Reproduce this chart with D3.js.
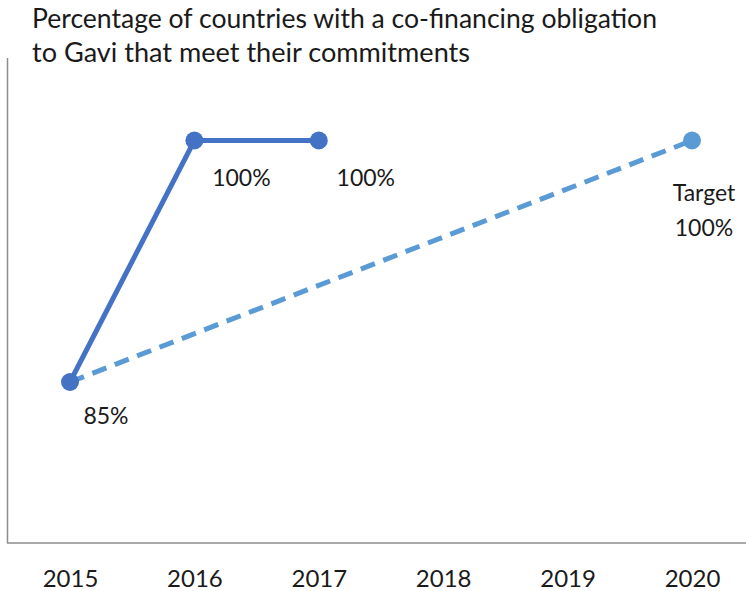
<!DOCTYPE html>
<html><head><meta charset="utf-8">
<script src="https://cdn.jsdelivr.net/npm/d3@7"></script>
<style>body{margin:0;background:#fff}svg{display:block}text{font-family:Lato,"Open Sans",sans-serif;fill:#1a1a1a}</style>
</head><body><svg id="c" width="746" height="591"></svg>
<script>
const years = [2015, 2016, 2017, 2018, 2019, 2020];
const actualYears = [2015, 2016, 2017];
const actualValues = [85, 100, 100];
const targetYears = [2015, 2020];
const targetValues = [85, 100];
const actualLabels = ["85%", "100%", "100%"];
const targetLabel = ["Target", "100%"];
const titleLines = ["Percentage of countries with a co-financing obligation", "to Gavi that meet their commitments"];

const svg = d3.select("#c");
const x = d3.scalePoint().domain(years).range([70, 692]);
const y = d3.scaleLinear().domain([75, 105]).range([543, 60]);

// frame
svg.append("line").attr("x1",7.5).attr("x2",7.5).attr("y1",58).attr("y2",543).attr("stroke","#8c8c8c").attr("stroke-width",1.5);
svg.append("line").attr("x1",7).attr("x2",746).attr("y1",543).attr("y2",543).attr("stroke","#8c8c8c").attr("stroke-width",1.5);

// axis labels
const ax = svg.append("g").attr("transform","translate(0,543)")
  .call(d3.axisBottom(x).tickSize(0).tickPadding(27).tickFormat(d3.format("d")));
ax.select(".domain").remove();
ax.selectAll("text").style("font-size","24px").style("font-family","Lato,sans-serif").attr("fill","#1a1a1a");

const line = d3.line().x(d=>x(d[0])).y(d=>y(d[1]));
const tdata = targetYears.map((yr,i)=>[yr,targetValues[i]]);
const adata = actualYears.map((yr,i)=>[yr,actualValues[i]]);

svg.append("path").datum(tdata).attr("d",line).attr("fill","none").attr("stroke","#5B9BD5").attr("stroke-width",5).attr("stroke-dasharray","15,9");
svg.append("circle").attr("cx",x(2020)).attr("cy",y(100)).attr("r",9).attr("fill","#5B9BD5");

svg.append("path").datum(adata).attr("d",line).attr("fill","none").attr("stroke","#4472C4").attr("stroke-width",5);
svg.selectAll("circle.a").data(adata).enter().append("circle").attr("class","a")
  .attr("cx",d=>x(d[0])).attr("cy",d=>y(d[1])).attr("r",9).attr("fill","#4472C4");

// labels
svg.selectAll("text.al").data(adata).enter().append("text").attr("class","al")
  .attr("x",d=>x(d[0])+(d[0]===2015?36:47)).attr("y",d=>y(d[1])+(d[0]===2015?42:45))
  .attr("text-anchor","middle").style("font-size","23px").text((d,i)=>actualLabels[i]);
svg.selectAll("text.tl").data(targetLabel).enter().append("text").attr("class","tl")
  .attr("x",x(2020)+12).attr("y",(d,i)=>y(100)+60+i*35).attr("text-anchor","middle").style("font-size","23px").text(d=>d);

const titleW = [625, 438];
svg.selectAll("text.title").data(titleLines).enter().append("text").attr("class","title")
  .attr("x",32).attr("y",(d,i)=>28+i*34).style("font-size","26px")
  .attr("textLength",(d,i)=>titleW[i]).attr("lengthAdjust","spacingAndGlyphs").text(d=>d);
</script></body></html>
